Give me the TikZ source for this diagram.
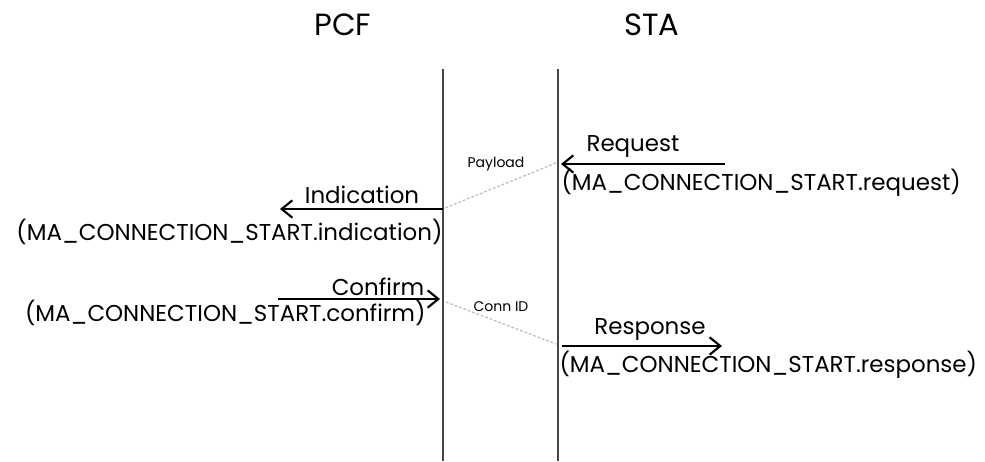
\documentclass[tikz,border=0pt]{standalone}
\usepackage{fontspec}
\setmainfont{Poppins}
\usetikzlibrary{arrows.meta}

\tikzset{every picture/.style={line width=0.75pt}}
\tikzset{
  lifeline/.style={draw={rgb, 255:red, 70; green, 70; blue, 70 }, line width=0.9pt},
  msgarrow/.style={draw=black, line width=2pt, -{Straight Barb[length=8pt,width=13pt,line width=1.6pt]}},
  frameline/.style={draw={rgb, 255:red, 185; green, 185; blue, 185 }, line width=0.9pt, dash pattern={on 2pt off 1.5pt}},
  headtext/.style={inner sep=0pt, font=\fontsize{23}{26}\selectfont},
  bigtext/.style={inner sep=0pt, font=\fontsize{17.2}{20}\selectfont},
  smalltext/.style={inner sep=0pt, font=\fontsize{10.5}{12}\selectfont},
}

\begin{document}
\begin{tikzpicture}[x=0.75pt,y=0.75pt,yscale=-1,xscale=1]
\path[use as bounding box] (0,0) rectangle (985,461);

% Headers
\node [headtext] (pcf) at (343,25) {PCF};
\node [headtext] (sta) at (652,25) {STA};

% Lifelines
\coordinate (pcfTop) at (443,69);
\coordinate (pcfBot) at (443,461);
\coordinate (staTop) at (558,69);
\coordinate (staBot) at (558,461);
\draw [lifeline] (pcfTop) -- (pcfBot);
\draw [lifeline] (staTop) -- (staBot);

% Request
\coordinate (reqFrom) at (725,164);
\coordinate (reqTo) at (561,164);
\draw [msgarrow] (reqFrom) -- (reqTo);
\node [bigtext, anchor=south] (reqLbl) at (633,158) {Request};
\node [bigtext, anchor=west] (reqPrim) at (561,183) {(MA\_CONNECTION\_START.request)};

% Payload frame
\coordinate (payFrom) at (556,163);
\coordinate (payTo) at (445,208);
\draw [frameline] (payFrom) -- (payTo);
\node [smalltext] (payLbl) at (496,164) {Payload};

% Indication
\coordinate (indFrom) at (443,209);
\coordinate (indTo) at (280,209);
\draw [msgarrow] (indFrom) -- (indTo);
\node [bigtext, anchor=south] (indLbl) at (362,204) {Indication};
\node [bigtext, anchor=east] (indPrim) at (443,232) {(MA\_CONNECTION\_START.indication)};

% Confirm
\coordinate (cnfFrom) at (278,299);
\coordinate (cnfTo) at (440,299);
\draw [msgarrow] (cnfFrom) -- (cnfTo);
\node [bigtext, anchor=south] (cnfLbl) at (378,296) {Confirm};
\node [bigtext, anchor=east] (cnfPrim) at (426,313) {(MA\_CONNECTION\_START.confirm)};

% Conn ID frame
\coordinate (conFrom) at (446,302);
\coordinate (conTo) at (556,344);
\draw [frameline] (conFrom) -- (conTo);
\node [smalltext] (conLbl) at (501,307) {Conn ID};

% Response
\coordinate (rspFrom) at (562,346);
\coordinate (rspTo) at (722,346);
\draw [msgarrow] (rspFrom) -- (rspTo);
\node [bigtext, anchor=south] (rspLbl) at (650,341) {Response};
\node [bigtext, anchor=west] (rspPrim) at (559,365) {(MA\_CONNECTION\_START.response)};

\end{tikzpicture}
\end{document}
